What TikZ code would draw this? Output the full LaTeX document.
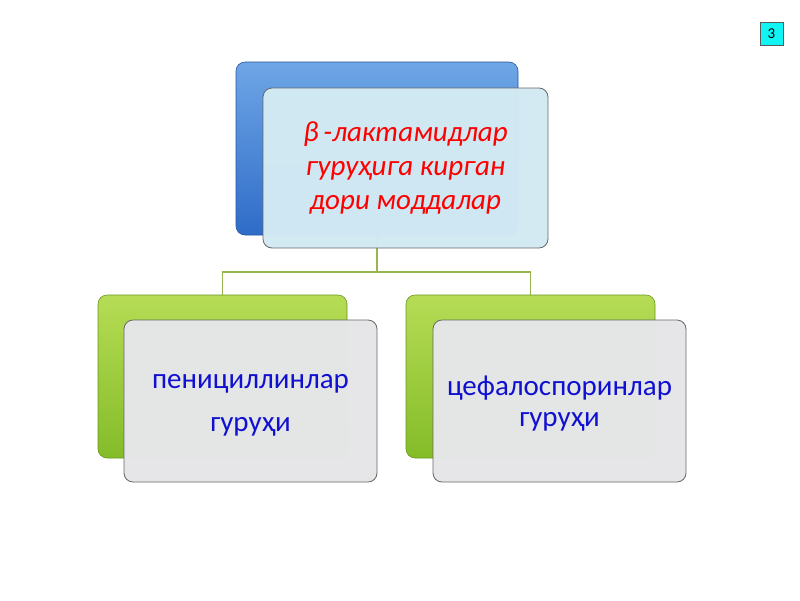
\documentclass[tikz,border=0pt]{standalone}
\usepackage{fontspec}
\setmainfont{Carlito}
\usetikzlibrary{backgrounds}
\definecolor{bluetop}{HTML}{6EA6E6}
\definecolor{bluebot}{HTML}{2F6CC8}
\definecolor{greentop}{HTML}{B6DC55}
\definecolor{greenbot}{HTML}{84BC28}
\definecolor{frontblue}{HTML}{D2EAF3}
\definecolor{frontgray}{HTML}{E6E6E9}
\definecolor{linkgreen}{HTML}{9AB44E}
\definecolor{textblue}{HTML}{1010D0}
\definecolor{pagecyan}{HTML}{10F4F4}

\begin{document}
\begin{tikzpicture}[x=1pt, y=-1pt,
    back/.style = {rounded corners=9pt, draw=#1!80!black, line width=0.6pt},
    front/.style = {rounded corners=9pt, draw=gray!80!black, line width=0.8pt,
      align=center, inner sep=0pt},
    link/.style = {draw=linkgreen, line width=1.4pt}]
  \useasboundingbox (0,0) rectangle (800,600);
  % top group
  \node[back=bluebot, top color=bluetop, bottom color=bluebot, minimum width=282pt,
    minimum height=173pt] (topback) at (377,148.5) {};
  \node[front, fill=frontblue, fill opacity=0.98, text opacity=1, minimum width=285pt,
    minimum height=160pt, font=\fontsize{29}{34}\selectfont\itshape, text=red]
    (top) at (405.5,168) {β\,-лактамидлар\\гуруҳига кирган\\дори моддалар};
  % left group
  \node[back=greenbot, top color=greentop, bottom color=greenbot, minimum width=249pt,
    minimum height=163pt] (leftback) at (222.5,376.5) {};
  \node[front, fill=frontgray, fill opacity=0.98, text opacity=1, minimum width=253pt,
    minimum height=162pt, font=\fontsize{29}{43}\selectfont, text=textblue]
    (left) at (250.5,401) {\begin{tabular}{@{}c@{}}пенициллинлар\\гуруҳи\end{tabular}};
  % right group
  \node[back=greenbot, top color=greentop, bottom color=greenbot, minimum width=249pt,
    minimum height=163pt] (rightback) at (530.5,376.5) {};
  \node[front, fill=frontgray, fill opacity=0.98, text opacity=1, minimum width=253pt,
    minimum height=162pt, font=\fontsize{29}{33}\selectfont, text=textblue]
    (right) at (559.5,401) {\begin{tabular}{@{}c@{}}\rule{0pt}{29pt}цефалоспоринлар\\[-2pt]гуруҳи\end{tabular}};
  % connectors
  \begin{scope}[on background layer]
    \coordinate (fork) at (377,272);
    \draw[link] (topback.south) -- (fork);
    \draw[link] (fork) -| (leftback.north);
    \draw[link] (fork) -| (rightback.north);
  \end{scope}
  % page number
  \node[draw=gray!70!black, fill=pagecyan, minimum size=23pt, inner sep=0pt,
    font=\fontsize{15}{17}\selectfont] (page) at (771.5,33.5) {3};
\end{tikzpicture}
\end{document}
